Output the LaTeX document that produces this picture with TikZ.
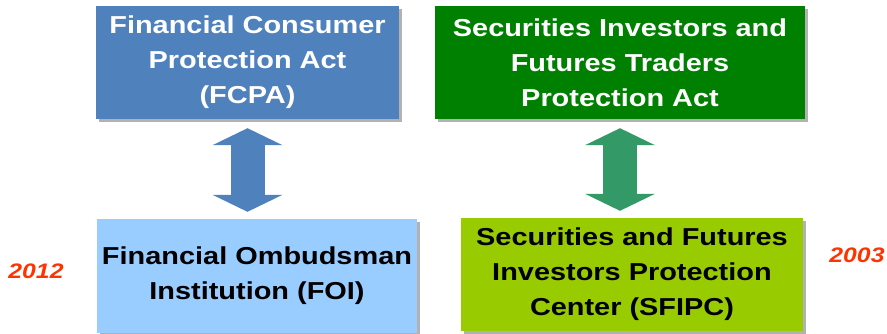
\documentclass[tikz,border=0pt]{standalone}
\usepackage{fontspec}
\newfontfamily\boxfont{Liberation Sans}[FakeStretch=1.18]
\usepackage{tikz}
\usetikzlibrary{arrows.meta}
\usetikzlibrary{shadows}
\definecolor{actblue}{HTML}{4F81BD}
\definecolor{actgreen}{HTML}{008000}
\definecolor{foiblue}{HTML}{99CCFF}
\definecolor{sfipcgreen}{HTML}{99CC00}
\definecolor{arrowblue}{HTML}{4F81BD}
\definecolor{arrowgreen}{HTML}{339966}
\definecolor{yearred}{HTML}{FF3300}
\tikzset{
  panel/.style={minimum height=113pt, inner sep=0pt, align=center,
    font=\boxfont\bfseries\fontsize{24.5}{35}\selectfont,
    drop shadow={shadow xshift=3pt,shadow yshift=-3pt,fill=black!30,opacity=1}},
  updown/.style={line width=34pt,
    {Triangle[length=17pt,width=70pt,line width=0pt]}-{Triangle[length=17pt,width=70pt,line width=0pt]},
    shorten <=9pt, shorten >=7pt},
  year/.style={text=yearred, font=\boxfont\bfseries\itshape\fontsize{21}{25}\selectfont}
}

\begin{document}
\begin{tikzpicture}[x=1pt,y=-1pt]
\useasboundingbox (0,0) rectangle (887,334);
%acts
\node[panel, fill=actblue, text=white, minimum width=303pt] (fcpa) at (247.5,62.5) {Financial Consumer\\Protection Act\\(FCPA)};
\node[panel, fill=actgreen, text=white, minimum width=370pt] (sftpa) at (620,62.5) {Securities Investors and\\Futures Traders\\Protection Act};

%institutions
\node[panel, fill=foiblue, minimum width=320pt, minimum height=114pt] (foi) at (257,276) {Financial Ombudsman\\Institution (FOI)};
\node[panel, fill=sfipcgreen, minimum width=342pt] (sfipc) at (632,274.5) {Securities and Futures\\Investors Protection\\Center (SFIPC)};

\node[year] (y2012) at (36,271) {2012};
\node[year] (y2003) at (857,255) {2003};

\draw[updown, draw=arrowblue] (fcpa.south) -- (fcpa.south |- foi.north);
\draw[updown, draw=arrowgreen] (sftpa.south) -- (sftpa.south |- sfipc.north);
\end{tikzpicture}
\end{document}
